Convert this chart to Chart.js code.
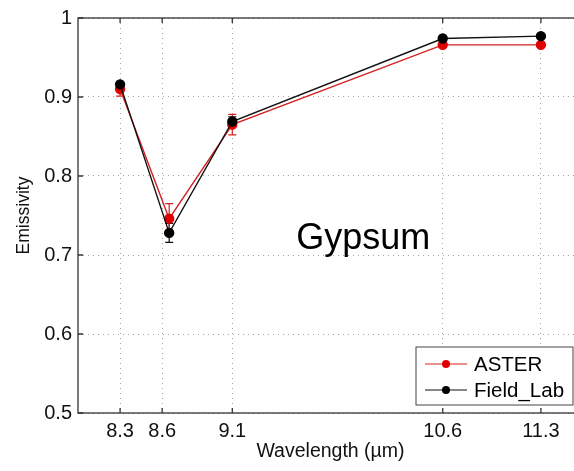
<!DOCTYPE html>
<html>
<head>
<meta charset="utf-8">
<script src="https://cdn.jsdelivr.net/npm/chart.js@4.4.1/dist/chart.umd.min.js"></script>
<style>
  html, body { margin: 0; padding: 0; background: #fff; overflow: hidden; }
  #wrap { width: 574px; height: 471px; overflow: hidden; position: relative; }
  #wrap canvas { position: absolute; left: 0; top: 0; }
</style>
</head>
<body>
<div id="wrap"><canvas id="chart" width="600" height="471"></canvas></div>
<script>
const wavelengths = [8.3, 8.65, 9.1, 10.6, 11.3];
const asterValues = [0.910, 0.746, 0.865, 0.966, 0.966];
const asterErrors = [0.009, 0.019, 0.013, 0.003, 0.003];
const fieldLabValues = [0.916, 0.728, 0.869, 0.974, 0.977];
const fieldLabErrors = [0.003, 0.012, 0.006, 0.002, 0.002];
const xTicks = [8.3, 8.6, 9.1, 10.6, 11.3];
const yTicks = [0.5, 0.6, 0.7, 0.8, 0.9, 1];
const mineral = "Gypsum";

const FONT = "'Liberation Sans', Arial, sans-serif";
// same order as the datasets below (Field_Lab first so it is drawn on top)
const errors = [fieldLabErrors, asterErrors];

// error bars, drawn under the markers
const errorBars = {
  id: "errorBars",
  beforeDatasetsDraw(chart) {
    const ctx = chart.ctx;
    const y = chart.scales.y;
    chart.data.datasets.forEach((ds, i) => {
      const meta = chart.getDatasetMeta(i);
      ctx.save();
      ctx.strokeStyle = ds.borderColor;
      ctx.lineWidth = 1.2;
      meta.data.forEach((pt, j) => {
        const v = ds.data[j].y, e = errors[i][j];
        const top = y.getPixelForValue(v + e), bot = y.getPixelForValue(v - e);
        ctx.beginPath();
        ctx.moveTo(pt.x, top); ctx.lineTo(pt.x, bot);
        ctx.moveTo(pt.x - 4, top); ctx.lineTo(pt.x + 4, top);
        ctx.moveTo(pt.x - 4, bot); ctx.lineTo(pt.x + 4, bot);
        ctx.stroke();
      });
      ctx.restore();
    });
  }
};

// axes box, inward ticks, label text and legend
const frame = {
  id: "frame",
  afterDraw(chart) {
    const ctx = chart.ctx;
    const { left, right, top, bottom } = chart.chartArea;
    const xs = chart.scales.x, ys = chart.scales.y;
    ctx.save();
    ctx.strokeStyle = "#333";
    ctx.lineWidth = 1.3;
    ctx.strokeRect(left, top, right - left, bottom - top);
    ctx.beginPath();
    xTicks.forEach(t => {
      const px = xs.getPixelForValue(t);
      ctx.moveTo(px, bottom); ctx.lineTo(px, bottom - 5);
      ctx.moveTo(px, top); ctx.lineTo(px, top + 5);
    });
    yTicks.forEach(t => {
      const py = ys.getPixelForValue(t);
      ctx.moveTo(left, py); ctx.lineTo(left + 5, py);
    });
    ctx.stroke();

    ctx.fillStyle = "#000";
    ctx.font = "36px " + FONT;
    ctx.textAlign = "left";
    ctx.textBaseline = "alphabetic";
    ctx.fillText(mineral, xs.getPixelForValue(9.555), ys.getPixelForValue(0.707));

    // legend
    const bw = 157, bh = 58;
    const bx = right - 10 - bw, by = bottom - 8 - bh;
    ctx.fillStyle = "#fff";
    ctx.fillRect(bx, by, bw, bh);
    ctx.strokeStyle = "#444";
    ctx.lineWidth = 1;
    ctx.strokeRect(bx, by, bw, bh);
    ctx.font = "20.5px " + FONT;
    ctx.textBaseline = "middle";
    // legend lists ASTER first
    [1, 0].forEach((di, i) => {
      const ds = chart.data.datasets[di];
      const ly = by + 17 + i * 26;
      ctx.strokeStyle = ds.borderColor;
      ctx.lineWidth = 1.2;
      ctx.beginPath();
      ctx.moveTo(bx + 9, ly); ctx.lineTo(bx + 51, ly);
      ctx.stroke();
      ctx.fillStyle = ds.pointBackgroundColor;
      ctx.beginPath();
      ctx.arc(bx + 30, ly, 4, 0, Math.PI * 2);
      ctx.fill();
      ctx.fillStyle = "#000";
      ctx.fillText(ds.label, bx + 58, ly + 1);
    });
    ctx.restore();
  }
};

const gridStyle = {
  color: "rgba(90,90,90,0.55)",
  lineWidth: 1,
  drawTicks: false
};

new Chart(document.getElementById("chart"), {
  type: "line",
  data: {
    datasets: [
      {
        label: "Field_Lab",
        data: wavelengths.map((w, i) => ({ x: w, y: fieldLabValues[i] })),
        borderColor: "#111",
        backgroundColor: "#000",
        pointBackgroundColor: "#000",
        pointBorderColor: "#000",
        borderWidth: 1.4,
        pointRadius: 4.5,
        tension: 0
      },
      {
        label: "ASTER",
        data: wavelengths.map((w, i) => ({ x: w, y: asterValues[i] })),
        borderColor: "#d42020",
        backgroundColor: "#e00000",
        pointBackgroundColor: "#e00000",
        pointBorderColor: "#e00000",
        borderWidth: 1.4,
        pointRadius: 4.5,
        tension: 0
      }
    ]
  },
  options: {
    responsive: false,
    animation: false,
    layout: { padding: { left: 0, right: 17, top: 15, bottom: 0 } },
    plugins: { legend: { display: false }, tooltip: { enabled: false } },
    scales: {
      x: {
        type: "linear",
        min: 8.0,
        max: 11.6,
        afterBuildTicks(scale) { scale.ticks = xTicks.map(v => ({ value: v })); },
        afterFit(scale) { scale.height = 58; },
        ticks: {
          color: "#111",
          padding: 6,
          font: { family: FONT, size: 20 },
          callback: v => String(v)
        },
        grid: gridStyle,
        border: { display: false, dash: [1, 4] },
        title: {
          display: true,
          text: "Wavelength (\u00b5m)",
          color: "#111",
          font: { family: FONT, size: 19.5 },
          padding: { top: 0, bottom: 8 }
        }
      },
      y: {
        min: 0.5,
        max: 1,
        afterBuildTicks(scale) { scale.ticks = yTicks.map(v => ({ value: v })); },
        afterFit(scale) { scale.width = 78; },
        ticks: {
          color: "#111",
          padding: 6,
          font: { family: FONT, size: 20 },
          callback: v => String(v)
        },
        grid: gridStyle,
        border: { display: false, dash: [1, 4] },
        title: {
          display: true,
          text: "Emissivity",
          color: "#111",
          font: { family: FONT, size: 17.5 },
          padding: { top: 14, bottom: 0 }
        }
      }
    }
  },
  plugins: [errorBars, frame]
});
</script>
</body>
</html>
